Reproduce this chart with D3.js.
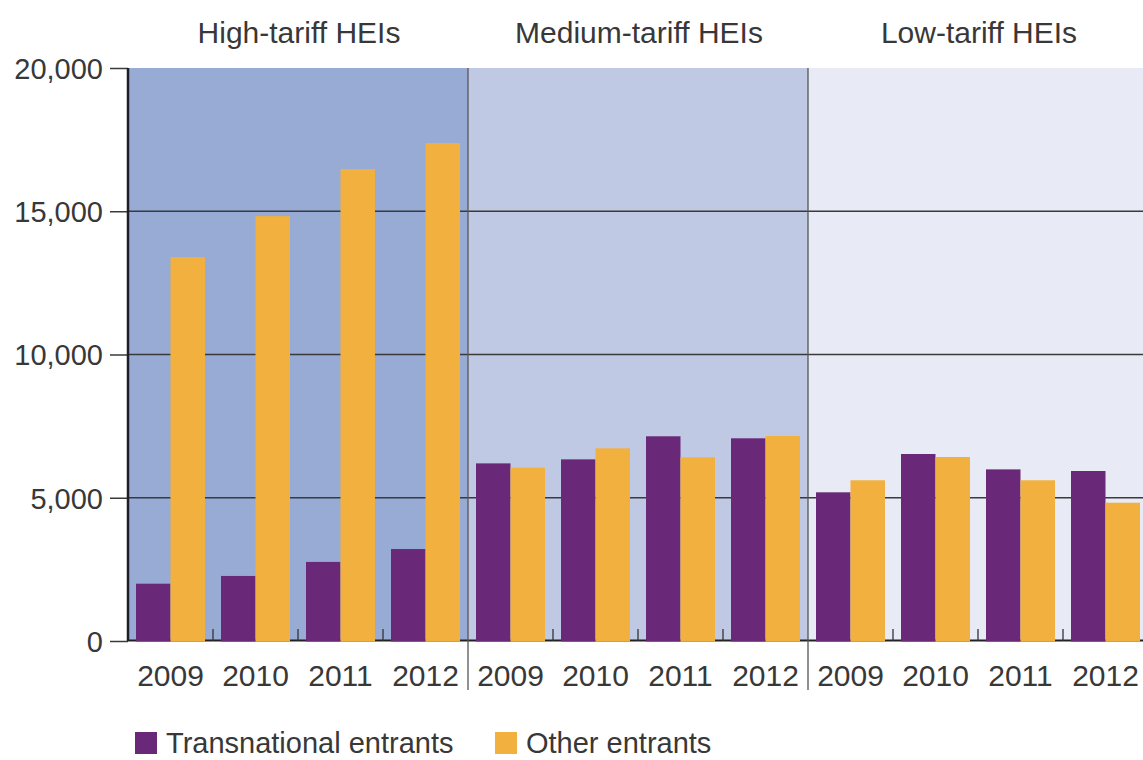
<!DOCTYPE html>
<html>
<head>
<meta charset="utf-8">
<script src="https://cdn.jsdelivr.net/npm/d3@7"></script>
<style>
  html, body { margin: 0; padding: 0; background: #fff; overflow: hidden; }
</style>
</head>
<body>
<div id="chart"></div>
<script>

// Data
var panels = ['High-tariff HEIs', 'Medium-tariff HEIs', 'Low-tariff HEIs'];
var years = ['2009', '2010', '2011', '2012'];
var seriesNames = ['Transnational entrants', 'Other entrants'];
var transnational = [2000, 2270, 2760, 3210, 6200, 6340, 7145, 7075, 5190, 6527, 5990, 5934];
var other = [13400, 14830, 16470, 17380, 6050, 6725, 6410, 7155, 5610, 6422, 5610, 4827];
var yTicks = [0, 5000, 10000, 15000, 20000];

// Exposed variables
var attrs = {
  svgWidth: 1143,
  svgHeight: 760,
  axisX: 128,
  panelWidth: 340,
  plotTop: 68,
  plotBottom: 641,
  defaultFont: '"Liberation Sans", Helvetica, Arial, sans-serif',
  textFill: '#383838',
  lineColor: '#3a3a3a',
  panelColors: ['#97abd4', '#c0c9e3', '#e8ebf5'],
  seriesColors: ['#6a2878', '#f2b13e']
};

// rows: one per panel/year
var rows = [];
panels.forEach(function (p, pi) {
  years.forEach(function (yr, yi) {
    var i = pi * years.length + yi;
    rows.push({ key: p + '|' + yr, panel: p, year: yr, values: [transnational[i], other[i]] });
  });
});

//#########################  SCALES  ########################
var scales = {};
scales.panel = d3.scaleBand()
  .domain(panels)
  .range([attrs.axisX, attrs.axisX + attrs.panelWidth * panels.length]);

scales.group = d3.scaleBand()
  .domain(rows.map(d => d.key))
  .range([attrs.axisX, attrs.axisX + attrs.panelWidth * panels.length]);

scales.series = d3.scaleBand()
  .domain(seriesNames)
  .range([8, scales.group.bandwidth() - 8]);

scales.y = d3.scaleLinear()
  .domain([0, 20000])
  .range([attrs.plotBottom, attrs.plotTop]);

var svg = d3.select('#chart').append('svg')
  .attr('width', attrs.svgWidth)
  .attr('height', attrs.svgHeight)
  .attr('font-family', attrs.defaultFont);

// panel backgrounds
svg.append('g').selectAll('rect')
  .data(panels)
  .enter().append('rect')
  .attr('x', d => scales.panel(d))
  .attr('y', scales.y(20000))
  .attr('width', scales.panel.bandwidth())
  .attr('height', scales.y(0) - scales.y(20000))
  .attr('fill', (d, i) => attrs.panelColors[i]);

// gridlines
svg.append('g').selectAll('line')
  .data(yTicks.filter(d => d > 0 && d < 20000))
  .enter().append('line')
  .attr('x1', attrs.axisX)
  .attr('x2', attrs.svgWidth)
  .attr('y1', d => scales.y(d))
  .attr('y2', d => scales.y(d))
  .attr('stroke', attrs.lineColor)
  .attr('stroke-width', 1.5);

// baseline
svg.append('line')
  .attr('x1', attrs.axisX)
  .attr('x2', attrs.svgWidth)
  .attr('y1', scales.y(0) - 0.5)
  .attr('y2', scales.y(0) - 0.5)
  .attr('stroke', '#222')
  .attr('stroke-width', 2);

// small ticks between year groups
svg.append('g').selectAll('line')
  .data(rows.filter(d => d.year !== years[0]))
  .enter().append('line')
  .attr('x1', d => scales.group(d.key))
  .attr('x2', d => scales.group(d.key))
  .attr('y1', scales.y(0))
  .attr('y2', scales.y(0) - 12)
  .attr('stroke', '#333')
  .attr('stroke-width', 1.3);

// bars
var groups = svg.append('g').selectAll('g')
  .data(rows)
  .enter().append('g')
  .attr('transform', d => 'translate(' + scales.group(d.key) + ',0)');

groups.selectAll('rect')
  .data(d => d.values.map((v, i) => ({ name: seriesNames[i], value: v, i: i })))
  .enter().append('rect')
  .attr('x', d => scales.series(d.name))
  .attr('y', d => scales.y(d.value))
  .attr('width', scales.series.bandwidth())
  .attr('height', d => scales.y(0) - scales.y(d.value) + 0.5)
  .attr('fill', d => attrs.seriesColors[d.i]);

// panel separators
svg.append('g').selectAll('line')
  .data(panels.slice(1))
  .enter().append('line')
  .attr('x1', d => scales.panel(d))
  .attr('x2', d => scales.panel(d))
  .attr('y1', attrs.plotTop)
  .attr('y2', 690)
  .attr('stroke', '#555')
  .attr('stroke-width', 1.3);

// y axis
var yAxis = d3.axisLeft(scales.y)
  .tickValues(yTicks)
  .tickSize(18)
  .tickPadding(7)
  .tickFormat(d3.format(','));

var yAxisG = svg.append('g')
  .attr('transform', 'translate(' + attrs.axisX + ',0)')
  .call(yAxis);
yAxisG.select('.domain').remove();
yAxisG.selectAll('.tick line').attr('stroke', attrs.lineColor).attr('stroke-width', 1.5);
yAxisG.selectAll('.tick text')
  .attr('font-size', 29)
  .attr('font-family', attrs.defaultFont)
  .attr('fill', attrs.textFill)
  .attr('dy', '0.36em');

svg.append('line')
  .attr('x1', attrs.axisX)
  .attr('x2', attrs.axisX)
  .attr('y1', attrs.plotTop)
  .attr('y2', attrs.plotBottom)
  .attr('stroke', '#1e1e2a')
  .attr('stroke-width', 2.5);

// x axis (year labels)
var xAxis = d3.axisBottom(scales.group)
  .tickSize(0)
  .tickPadding(0)
  .tickFormat(k => k.split('|')[1]);

var xAxisG = svg.append('g')
  .attr('transform', 'translate(0,' + attrs.plotBottom + ')')
  .call(xAxis);
xAxisG.select('.domain').remove();
xAxisG.selectAll('.tick text')
  .attr('font-size', 30)
  .attr('font-family', attrs.defaultFont)
  .attr('fill', attrs.textFill)
  .attr('dy', null)
  .attr('y', 45);

// panel titles
svg.append('g').selectAll('text')
  .data(panels)
  .enter().append('text')
  .attr('x', d => scales.panel(d) + scales.panel.bandwidth() / 2 + 1)
  .attr('y', 43)
  .attr('text-anchor', 'middle')
  .attr('font-size', 30)
  .attr('fill', attrs.textFill)
  .text(d => d);

// legend (kept just inside the bottom edge)
var legendX = [135, 495];
var legend = svg.append('g').selectAll('g')
  .data(seriesNames)
  .enter().append('g')
  .attr('transform', (d, i) => 'translate(' + legendX[i] + ',732)');

legend.append('rect')
  .attr('width', 22)
  .attr('height', 22)
  .attr('fill', (d, i) => attrs.seriesColors[i]);

legend.append('text')
  .attr('x', 31)
  .attr('y', 21)
  .attr('font-size', 29)
  .attr('fill', attrs.textFill)
  .text(d => d);

</script>
</body>
</html>
